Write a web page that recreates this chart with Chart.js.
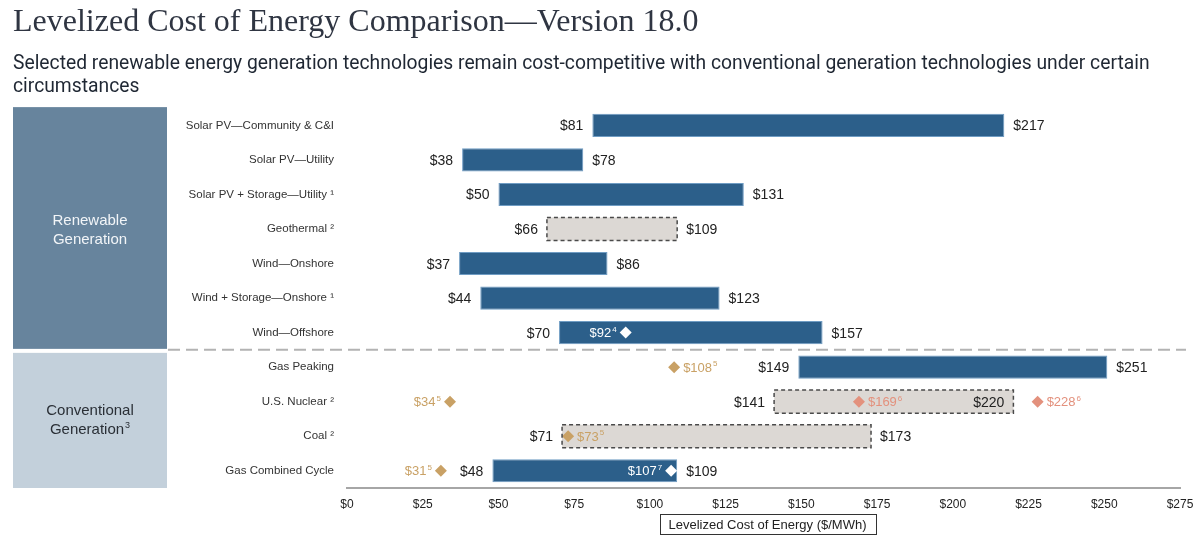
<!DOCTYPE html>
<html>
<head>
<meta charset="utf-8">
<script src="https://cdn.jsdelivr.net/npm/chart.js@4.4.1/dist/chart.umd.min.js"></script>
<style>
  html, body { margin: 0; padding: 0; background: #fff; }
  #wrap { width: 1200px; height: 536px; position: relative; }
</style>
</head>
<body>
<div id="wrap"><canvas id="lcoe"></canvas></div>
<script>
// Rows of the chart, top to bottom
const categories = ['Solar PV—Community & C&I', 'Solar PV—Utility', 'Solar PV + Storage—Utility', 'Geothermal',
  'Wind—Onshore', 'Wind + Storage—Onshore', 'Wind—Offshore', 'Gas Peaking', 'U.S. Nuclear', 'Coal', 'Gas Combined Cycle'];
const categoryNotes = ['', '', '1', '2', '', '1', '', '', '2', '2', ''];

// $/MWh ranges
const lowValues = [81, 38, 50, 66, 37, 44, 70, 149, 141, 71, 48];
const highValues = [217, 78, 131, 109, 86, 123, 157, 251, 220, 173, 109];
const isEstimate = [false, false, false, true, false, false, false, false, true, true, false];

// diamonds (row index, value, footnote, kind)
const markerRows = [6, 7, 8, 8, 8, 9, 10, 10];
const markerValues = [92, 108, 34, 169, 228, 73, 31, 107];
const markerNotes = ['4', '5', '5', '6', '6', '5', '5', '7'];
const markerKinds = ['white', 'gold', 'gold', 'salmon', 'salmon', 'gold', 'gold', 'white'];

const xTicks = [0, 25, 50, 75, 100, 125, 150, 175, 200, 225, 250, 275];

// styles
const FONT = '"Liberation Sans", Arial, sans-serif';
const BLUE = '#2c5f8a';
const GRAY_FILL = '#dcd8d4';
const KIND_COLOR = { white: '#ffffff', gold: '#c9a165', salmon: '#e3917d' };
const markerSide = ['left', 'right', 'left', 'right', 'right', 'right', 'left', 'left'];
const highInside = [false, false, false, false, false, false, false, false, true, false, false];
const SUP = { '1': '¹', '2': '²', '3': '³' };

function drawNoted(ctx, main, note, x, y, align, color, size) {
  ctx.font = size + 'px ' + FONT;
  const mw = ctx.measureText(main).width;
  const ns = Math.round(size * 0.62);
  ctx.font = ns + 'px ' + FONT;
  const nw = note ? ctx.measureText(note).width + 1 : 0;
  const total = mw + nw;
  let sx = x;
  if (align === 'right') sx = x - total;
  if (align === 'center') sx = x - total / 2;
  ctx.textAlign = 'left';
  ctx.textBaseline = 'alphabetic';
  ctx.fillStyle = color;
  ctx.font = size + 'px ' + FONT;
  ctx.fillText(main, sx, y + size * 0.36);
  if (note) {
    ctx.font = ns + 'px ' + FONT;
    ctx.fillText(note, sx + mw + 1, y - size * 0.08);
  }
}

const panels = {
  id: 'panels',
  beforeDatasetsDraw(chart) {
    const { ctx, chartArea: area, scales: { y } } = chart;
    const sepY = (y.getPixelForValue(6) + y.getPixelForValue(7)) / 2;
    ctx.save();
    ctx.fillStyle = '#67849d';
    ctx.fillRect(13, area.top - 1, 154, sepY - area.top);
    ctx.fillStyle = '#c3d0db';
    ctx.fillRect(13, sepY + 3, 154, area.bottom - sepY - 3);

    ctx.strokeStyle = '#b3b3b3';
    ctx.lineWidth = 2;
    ctx.setLineDash([12, 6]);
    ctx.beginPath();
    ctx.moveTo(168, sepY);
    ctx.lineTo(area.right + 6, sepY);
    ctx.stroke();
    ctx.setLineDash([]);

    const c1 = (area.top + sepY) / 2;
    drawNoted(ctx, 'Renewable', '', 90, c1 - 9, 'center', '#f2f5f8', 15);
    drawNoted(ctx, 'Generation', '', 90, c1 + 10, 'center', '#f2f5f8', 15);
    const c2 = (sepY + area.bottom) / 2;
    drawNoted(ctx, 'Conventional', '', 90, c2 - 9, 'center', '#2a2f36', 15);
    drawNoted(ctx, 'Generation', '3', 90, c2 + 10, 'center', '#2a2f36', 15);
    ctx.restore();
  },
  afterDatasetsDraw(chart) {
    const { ctx, chartArea: area } = chart;
    ctx.save();
    const bars = chart.getDatasetMeta(0).data;
    bars.forEach((el, i) => {
      const p = el.getProps(['x', 'base', 'y', 'height'], true);
      const left = Math.min(p.x, p.base), right = Math.max(p.x, p.base);
      if (isEstimate[i]) {
        ctx.strokeStyle = '#4a4a4a';
        ctx.lineWidth = 1.5;
        ctx.setLineDash([4, 3]);
        ctx.strokeRect(left, p.y - p.height / 2, right - left, p.height);
        ctx.setLineDash([]);
      }
      drawNoted(ctx, '$' + lowValues[i], '', left - 9, p.y, 'right', '#222', 14);
      if (highInside[i]) {
        drawNoted(ctx, '$' + highValues[i], '', right - 9, p.y, 'right', '#222', 14);
      } else {
        drawNoted(ctx, '$' + highValues[i], '', right + 9, p.y, 'left', '#222', 14);
      }
    });

    const pts = chart.getDatasetMeta(1).data;
    pts.forEach((el, i) => {
      const side = markerSide[i];
      const x = side === 'left' ? el.x - 9 : el.x + 9;
      drawNoted(ctx, '$' + markerValues[i], markerNotes[i], x, el.y, side === 'left' ? 'right' : 'left',
        KIND_COLOR[markerKinds[i]], 13);
    });

    // axis title box
    const label = 'Levelized Cost of Energy ($/MWh)';
    ctx.font = '13px ' + FONT;
    const tw = ctx.measureText(label).width;
    const cx = (area.left + area.right) / 2 + 4;
    const cy = area.bottom + 36;
    ctx.strokeStyle = '#333';
    ctx.lineWidth = 1;
    ctx.strokeRect(Math.round(cx - tw / 2 - 9) + 0.5, Math.round(cy - 10) + 0.5, Math.round(tw + 18), 20);
    ctx.fillStyle = '#222';
    ctx.textAlign = 'center';
    ctx.textBaseline = 'middle';
    ctx.fillText(label, cx, cy + 1);
    ctx.restore();
  }
};

new Chart(document.getElementById('lcoe'), {
  data: {
    labels: categories,
    datasets: [{
      type: 'bar',
      data: lowValues.map((lo, i) => [lo, highValues[i]]),
      backgroundColor: isEstimate.map(e => e ? GRAY_FILL : BLUE),
      borderColor: isEstimate.map(e => e ? GRAY_FILL : '#6f9cc3'),
      borderWidth: isEstimate.map(e => e ? 0 : 1),
      borderSkipped: false,
      categoryPercentage: 1,
      barPercentage: 0.67,
      order: 1
    }, {
      type: 'line',
      data: markerValues.map((v, i) => ({ x: v, y: categories[markerRows[i]] })),
      showLine: false,
      pointStyle: 'rectRot',
      pointRadius: 6,
      pointBorderWidth: 0,
      pointBackgroundColor: markerKinds.map(k => KIND_COLOR[k]),
      order: 0
    }]
  },
  options: {
    indexAxis: 'y',
    responsive: true,
    maintainAspectRatio: false,
    animation: false,
    layout: { padding: { left: 13, right: 20, top: 0, bottom: 0 } },
    plugins: {
      legend: { display: false },
      tooltip: { enabled: false },
      title: {
        display: true,
        text: 'Levelized Cost of Energy Comparison—Version 18.0',
        align: 'start',
        color: '#2f3542',
        font: { family: '"Liberation Serif", "DejaVu Serif", serif', size: 32, weight: 'normal', lineHeight: 1.15 },
        padding: { top: 4, bottom: 6 }
      },
      subtitle: {
        display: true,
        text: ['Selected renewable energy generation technologies remain cost-competitive with conventional generation technologies under certain',
          'circumstances'],
        align: 'start',
        color: '#1f2733',
        font: { family: 'Roboto, ' + FONT, size: 19.3, weight: 'normal', lineHeight: 1.2 },
        padding: { top: 6, bottom: 9 }
      }
    },
    scales: {
      x: {
        type: 'linear',
        min: 0,
        max: 275,
        afterBuildTicks: s => { s.ticks = xTicks.map(v => ({ value: v })); },
        afterFit: s => { s.height = 48; },
        grid: { display: false },
        border: { display: true, color: '#a6a6a6', width: 2 },
        ticks: {
          padding: 1,
          color: '#222',
          font: { family: FONT, size: 12 },
          callback: v => '$' + v
        }
      },
      y: {
        type: 'category',
        afterFit: s => { s.width = 334; },
        grid: { display: false },
        border: { display: false },
        ticks: {
          padding: 5,
          color: '#333',
          font: { family: FONT, size: 11.5 },
          callback: (v, i) => categories[i] + (categoryNotes[i] ? ' ' + SUP[categoryNotes[i]] : '')
        }
      }
    }
  },
  plugins: [panels]
});
</script>
</body>
</html>
